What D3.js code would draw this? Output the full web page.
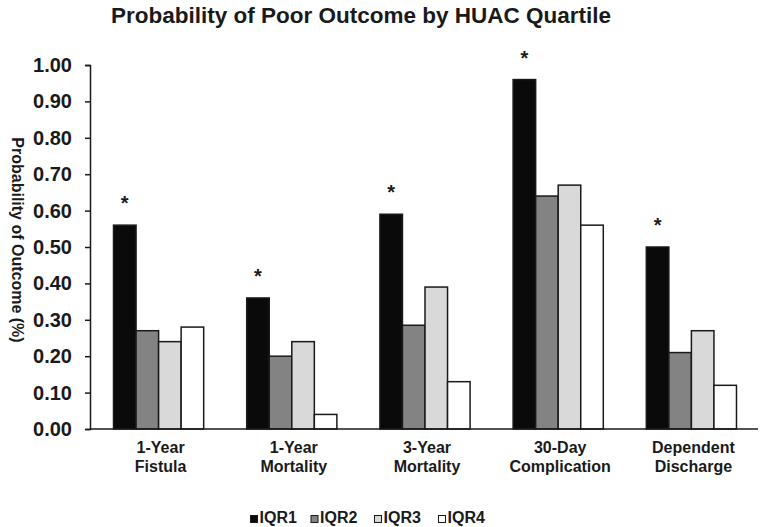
<!DOCTYPE html>
<html>
<head>
<meta charset="utf-8">
<script src="https://cdn.jsdelivr.net/npm/d3@7/dist/d3.min.js"></script>
<style>
  html, body { margin: 0; padding: 0; background: #fff; }
  svg { display: block; font-family: "Liberation Sans", Arial, Helvetica, sans-serif; }
</style>
</head>
<body>
<svg id="chart" width="762" height="527"></svg>
<script>
const categories = ["1-Year\nFistula", "1-Year\nMortality", "3-Year\nMortality", "30-Day\nComplication", "Dependent\nDischarge"];
const seriesNames = ["IQR1", "IQR2", "IQR3", "IQR4"];
const IQR1 = [0.56, 0.36, 0.59, 0.96, 0.50];
const IQR2 = [0.27, 0.20, 0.285, 0.64, 0.21];
const IQR3 = [0.24, 0.24, 0.39, 0.67, 0.27];
const IQR4 = [0.28, 0.04, 0.13, 0.56, 0.12];
const significant = [true, true, true, true, true];
const yTicks = [0, 0.1, 0.2, 0.3, 0.4, 0.5, 0.6, 0.7, 0.8, 0.9, 1.0];
const colors = ["#0a0a0a", "#838383", "#d9d9d9", "#ffffff"];

const series = [IQR1, IQR2, IQR3, IQR4];
const svg = d3.select("#chart");
svg.append("rect").attr("width", 762).attr("height", 527).attr("fill", "#fff");

const ink = "#1a1a1a";
const y = d3.scaleLinear().domain([0, 1]).range([429, 65]);
const x0 = d3.scaleBand().domain(categories).range([92, 758]).paddingInner(0.323).paddingOuter(0.1615);
const x1 = d3.scaleBand().domain(seriesNames).range([0, x0.bandwidth()]).padding(0);

// title
svg.append("text").attr("x", 361).attr("y", 23).attr("text-anchor", "middle")
  .attr("font-size", 22.5).attr("font-weight", "bold").attr("fill", ink)
  .text("Probability of Poor Outcome by HUAC Quartile");

// y axis
const yAxis = d3.axisLeft(y).tickValues(yTicks).tickFormat(d3.format(".2f")).tickSize(5).tickPadding(13);
const gy = svg.append("g").attr("transform", "translate(90,0)").call(yAxis);
gy.select(".domain").attr("stroke", ink).attr("stroke-width", 1.5);
gy.selectAll(".tick line").attr("stroke", ink).attr("stroke-width", 1.5);
gy.selectAll(".tick text").attr("font-size", 20).attr("font-weight", "bold").attr("fill", ink)
  .attr("font-family", "Liberation Sans, Arial, sans-serif");

// y axis title
svg.append("text").attr("transform", "translate(12,240) rotate(90)").attr("text-anchor", "middle")
  .attr("font-size", 16).attr("font-weight", "bold").attr("fill", ink)
  .text("Probability of Outcome (%)");

// bars
const groups = svg.append("g").selectAll("g").data(categories).join("g")
  .attr("transform", d => `translate(${x0(d)},0)`);
groups.selectAll("rect").data((d, i) => seriesNames.map((s, j) => ({ s, v: series[j][i], c: colors[j] })))
  .join("rect")
  .attr("x", d => x1(d.s)).attr("width", x1.bandwidth())
  .attr("y", d => y(d.v)).attr("height", d => y(0) - y(d.v))
  .attr("fill", d => d.c).attr("stroke", ink).attr("stroke-width", 1.5);

// asterisks
groups.filter((d, i) => significant[i]).append("text")
  .attr("x", x1("IQR1") + x1.bandwidth() / 2)
  .attr("y", (d) => y(IQR1[categories.indexOf(d)]) - 15)
  .attr("text-anchor", "middle").attr("font-size", 20).attr("font-weight", "bold").attr("fill", ink)
  .text("*");

// x axis line
svg.append("line").attr("x1", 90).attr("x2", 758).attr("y1", y(0)).attr("y2", y(0))
  .attr("stroke", ink).attr("stroke-width", 1.5);

// x labels
const xl = svg.append("g").selectAll("text").data(categories).join("text")
  .attr("x", d => x0(d) + x0.bandwidth() / 2 + 2)
  .attr("text-anchor", "middle").attr("font-size", 16).attr("font-weight", "bold").attr("fill", ink);
xl.selectAll("tspan").data(d => d.split("\n")).join("tspan")
  .attr("x", function() { return d3.select(this.parentNode).attr("x"); })
  .attr("y", (d, i) => 453 + i * 19)
  .text(d => d);

// legend
const legendX = [250.5, 311, 374.5, 438.5];
const lg = svg.append("g").selectAll("g").data(seriesNames).join("g")
  .attr("transform", (d, i) => `translate(${legendX[i]},0)`);
lg.append("rect").attr("x", 0).attr("y", 515.5).attr("width", 7).attr("height", 7)
  .attr("fill", (d, i) => colors[i]).attr("stroke", ink).attr("stroke-width", 1);
lg.append("text").attr("x", 9).attr("y", 523).attr("font-size", 16).attr("font-weight", "bold").attr("fill", ink)
  .text(d => d);
</script>
</body>
</html>
